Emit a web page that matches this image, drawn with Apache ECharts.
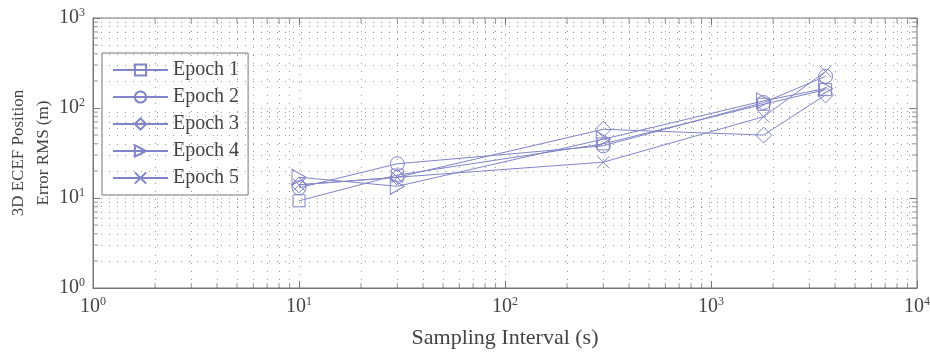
<!DOCTYPE html>
<html>
<head>
<meta charset="utf-8">
<script src="https://cdn.jsdelivr.net/npm/echarts@6/dist/echarts.min.js"></script>
<style>html,body{margin:0;padding:0;background:#fff;}#c{width:930px;height:353px;}</style>
</head>
<body>
<div id="c"></div>
<script>
const xValues = [10, 30, 300, 1800, 3600];
const epoch1 = [9.3, 18, 40, 110, 160];
const epoch2 = [13, 24, 38, 115, 225];
const epoch3 = [14, 17, 58, 50, 140];
const epoch4 = [17, 13.5, 45, 120, 165];
const epoch5 = [14, 17, 25, 80, 255];
const seriesNames = ['Epoch 1', 'Epoch 2', 'Epoch 3', 'Epoch 4', 'Epoch 5'];
const xMajor = [1, 10, 100, 1000, 10000];
const yMajor = [1, 10, 100, 1000];

const lineColor = '#8184c7';
const font = 'Liberation Serif';
const symbols = [
  'rect',
  'circle',
  'path://M5,0L10,5L5,10L0,5Z',
  'path://M0,0L10,5L0,10Z',
  'path://M0,0L10,10M10,0L0,10'
];
const symbolSizes = [12, 14, 16, [14, 16], 12];

function minorValues(majors) {
  const out = [];
  for (let i = 0; i < majors.length - 1; i++) {
    for (let m = 2; m <= 9; m++) out.push(majors[i] * m);
  }
  return out;
}
const xMinor = minorValues(xMajor);
const yMinor = minorValues(yMajor);

const gridLineStyle = { color: '#999', type: [1, 7], width: 1 };

function supLabel(v) {
  return '10{s|' + Math.round(Math.log10(v)) + '}';
}
const labelRich = { s: { fontSize: 12, fontFamily: font, color: '#444', verticalAlign: 'bottom', padding: [0, 0, 10, 0] } };

const dataSets = [epoch1, epoch2, epoch3, epoch4, epoch5];
const series = dataSets.map((arr, i) => ({
  name: seriesNames[i],
  type: 'line',
  data: arr.map((v, j) => [xValues[j], v]),
  symbol: symbols[i],
  symbolSize: symbolSizes[i],
  showAllSymbol: true,
  lineStyle: { color: lineColor, width: 1 },
  itemStyle: { color: 'none', borderColor: lineColor, borderWidth: 1 },
  emphasis: { disabled: true },
  z: 5
}));

// minor grid lines
series.push({
  type: 'line', data: [], silent: true, z: 1,
  markLine: {
    silent: true, symbol: ['none', 'none'], label: { show: false },
    lineStyle: gridLineStyle, animation: false,
    data: xMinor.map(v => ({ xAxis: v })).concat(yMinor.map(v => ({ yAxis: v })))
  }
});
// minor ticks on 4 edges
const tickStyle = { color: '#777' };
series.push({ type: 'scatter', silent: true, clip: false, symbol: 'rect', symbolSize: [1, 5], symbolOffset: [0, -2.5], itemStyle: tickStyle, data: xMinor.map(v => [v, 1]), z: 6 });
series.push({ type: 'scatter', silent: true, clip: false, symbol: 'rect', symbolSize: [1, 5], symbolOffset: [0, 2.5], itemStyle: tickStyle, data: xMinor.map(v => [v, 1000]), z: 6 });
series.push({ type: 'scatter', silent: true, clip: false, symbol: 'rect', symbolSize: [5, 1], symbolOffset: [2.5, 0], itemStyle: tickStyle, data: yMinor.map(v => [1, v]), z: 6 });
series.push({ type: 'scatter', silent: true, clip: false, symbol: 'rect', symbolSize: [5, 1], symbolOffset: [-2.5, 0], itemStyle: tickStyle, data: yMinor.map(v => [10000, v]), z: 6 });

const chart = echarts.init(document.getElementById('c'));
chart.setOption({
  animation: false,
  backgroundColor: '#fff',
  grid: { left: 93, right: 13, top: 18, bottom: 65, containLabel: false, outerBoundsMode: 'none', show: true, borderColor: '#777', borderWidth: 1, backgroundColor: 'transparent' },
  legend: {
    data: seriesNames,
    orient: 'vertical',
    left: 102, top: 53,
    itemWidth: 55, itemHeight: 14, itemGap: 5,
    padding: [6, 9, 6, 10],
    backgroundColor: '#fff',
    borderColor: '#777', borderWidth: 1,
    textStyle: { fontFamily: font, fontSize: 20, color: '#444', lineHeight: 22 }
  },
  xAxis: [{
    type: 'log', logBase: 10, min: 1, max: 10000,
    name: 'Sampling Interval (s)', nameLocation: 'middle', nameGap: 39,
    nameTextStyle: { fontFamily: font, fontSize: 22, color: '#444' },
    axisLine: { show: true, lineStyle: { color: '#777' } },
    axisTick: { show: true, inside: true, length: 7, lineStyle: { color: '#777' } },
    axisLabel: { formatter: supLabel, rich: labelRich, fontFamily: font, fontSize: 20, color: '#444', margin: 8 },
    splitLine: { show: true, lineStyle: gridLineStyle }
  }, {
    type: 'log', logBase: 10, min: 1, max: 10000, position: 'top',
    axisLine: { show: false }, axisLabel: { show: false },
    axisTick: { show: true, inside: true, length: 7, lineStyle: { color: '#777' } },
    splitLine: { show: false }
  }],
  yAxis: [{
    type: 'log', logBase: 10, min: 1, max: 1000,
    name: '3D ECEF Position\nError RMS (m)', nameLocation: 'middle', nameGap: 37, nameMoveOverlap: false,
    nameTextStyle: { fontFamily: font, fontSize: 17, color: '#444', lineHeight: 25 },
    axisLine: { show: true, lineStyle: { color: '#777' } },
    axisTick: { show: true, inside: true, length: 7, lineStyle: { color: '#777' } },
    axisLabel: { formatter: supLabel, rich: labelRich, fontFamily: font, fontSize: 20, color: '#444', margin: 8 },
    splitLine: { show: true, lineStyle: gridLineStyle }
  }, {
    type: 'log', logBase: 10, min: 1, max: 1000, position: 'right',
    axisLine: { show: false }, axisLabel: { show: false },
    axisTick: { show: true, inside: true, length: 7, lineStyle: { color: '#777' } },
    splitLine: { show: false }
  }],
  series: series
});
</script>
</body>
</html>
